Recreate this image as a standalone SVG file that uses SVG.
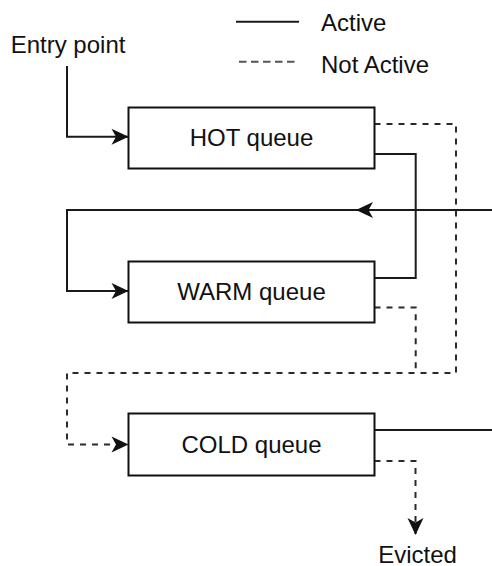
<svg xmlns="http://www.w3.org/2000/svg" width="492" height="566" viewBox="0 0 492 566">
  <style>
    .box { fill: #ffffff; stroke: #111111; stroke-width: 2; }
    .label { font-family: "Liberation Sans", Arial, sans-serif; font-size: 24px; fill: #111111; }
    .mid { text-anchor: middle; }
    .solid { fill: none; stroke: #1a1a1a; stroke-width: 2; }
    .dashed { fill: none; stroke: #2a2a2a; stroke-width: 2; stroke-dasharray: 6 6; }
    .legend-dash { fill: none; stroke: #555555; stroke-width: 2; stroke-dasharray: 7.5 4.5; }
  </style>
  <defs>
    <path id="head" d="M0,0 L-17,-8 L-12.5,0 L-17,8 Z" fill="#111111"/>
    <marker id="arrow" markerUnits="userSpaceOnUse" markerWidth="20" markerHeight="20"
            viewBox="-18 -10 20 20" refX="0" refY="0" orient="auto">
      <use href="#head"/>
    </marker>
  </defs>

  <rect width="492" height="566" fill="#ffffff"/>

  <!-- legend -->
  <g id="legend">
    <path class="solid" d="M236,21.7 H299"/>
    <text class="label" x="321" y="30.5">Active</text>
    <path class="legend-dash" d="M239,61.7 H295.5"/>
    <text class="label" x="321" y="72.5">Not Active</text>
  </g>

  <!-- connectors -->
  <g id="connectors">
    <!-- entry into HOT -->
    <path class="solid" d="M67,66 V136.7 H128.5" marker-end="url(#arrow)"/>
    <!-- HOT / WARM active loop on the right -->
    <path class="solid" d="M374.5,154 H415.7 V278 H374.5"/>
    <!-- incoming active edge back to WARM -->
    <path class="solid" d="M492,210 H67 V291 H128.5" marker-end="url(#arrow)"/>
    <use href="#head" transform="translate(356,210) rotate(180)"/>
    <!-- HOT inactive to COLD -->
    <path class="dashed" d="M374.5,124 H456 V373 H67 V444.5 H128.5" marker-end="url(#arrow)"/>
    <!-- WARM inactive joins the same route -->
    <path class="dashed" d="M374.5,307.5 H415.7 V373"/>
    <!-- COLD active outgoing -->
    <path class="solid" d="M374.5,430 H492"/>
    <!-- COLD inactive to eviction -->
    <path class="dashed" d="M374.5,461 H415.5 V535" marker-end="url(#arrow)"/>
  </g>

  <!-- nodes -->
  <g id="entry">
    <text class="label" x="10.7" y="53.3">Entry point</text>
  </g>
  <g id="hot">
    <rect class="box" x="128.5" y="107.5" width="246" height="61"/>
    <text class="label mid" x="251.5" y="146">HOT queue</text>
  </g>
  <g id="warm">
    <rect class="box" x="128.5" y="261.5" width="246" height="61"/>
    <text class="label mid" x="251.5" y="300">WARM queue</text>
  </g>
  <g id="cold">
    <rect class="box" x="128.5" y="413.5" width="246" height="62"/>
    <text class="label mid" x="251.5" y="453">COLD queue</text>
  </g>
  <g id="evicted">
    <text class="label mid" x="417.5" y="563">Evicted</text>
  </g>
</svg>
